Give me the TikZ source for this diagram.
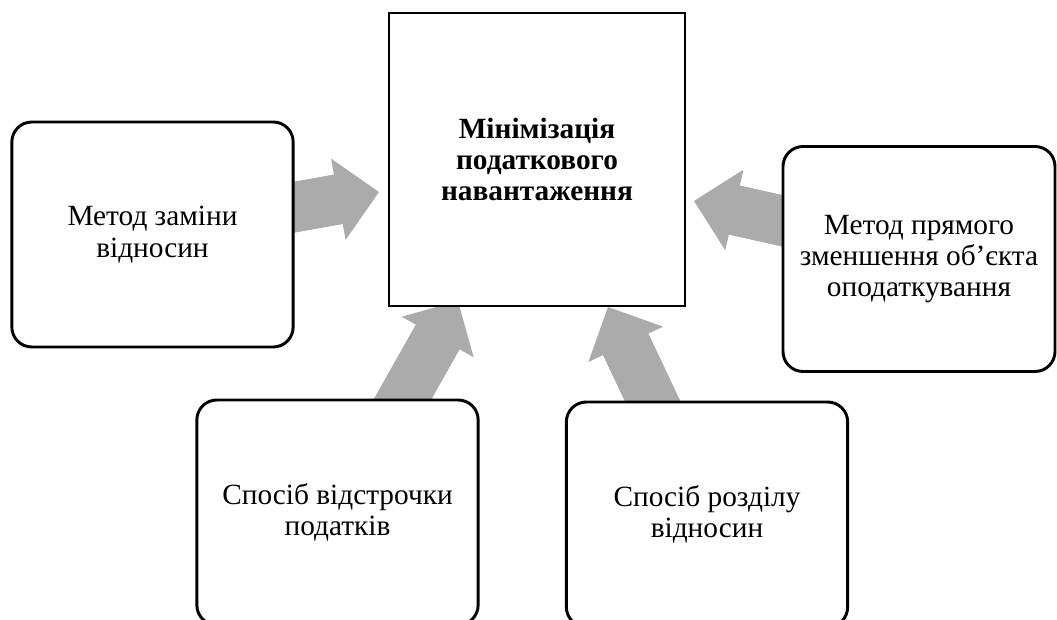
\documentclass[tikz,border=0pt]{standalone}
\usepackage{fontspec}
\setmainfont{Liberation Serif}
\usepackage{xcolor}
\usepackage{tikz}
\usetikzlibrary{arrows.meta}
\usetikzlibrary{backgrounds}
\definecolor{arrowgray}{HTML}{ABABAB}

\begin{document}
\begin{tikzpicture}[x=0.75pt,y=-0.75pt,
    box/.style={draw,line width=2.2pt,fill=white,align=center,inner sep=0pt,
      font=\fontsize{22}{23.5}\selectfont},
    method/.style={box,rounded corners=15pt,minimum width=211pt,minimum height=168.75pt},
    fat/.style={draw=arrowgray,line width=37.5pt,
      -{Triangle[length=31pt,width=62pt,line width=0pt,fill=arrowgray]}},
    fatbody/.style={draw=arrowgray,line width=37.5pt,shorten >=27pt}]
    \useasboundingbox (0,0) rectangle (1057,620);
    \node[box,minimum width=222pt,minimum height=219.75pt] (M) at (537,159.5)
      {\bfseries Мінімізація\\ \bfseries податкового\\ \bfseries навантаження};
    \node[method] (A) at (152.5,234.5) {Метод заміни\\відносин};
    \node[method,minimum width=204pt] (B) at (919,259) {Метод прямого\\зменшення об’єкта\\оподаткування};
    \node[method] (C) at (337.5,512.5) {Спосіб відстрочки\\податків};
    \node[method] (D) at (707,514.5) {Спосіб розділу\\відносин};
    \coordinate (A0) at (270,211.5);
    \coordinate (A1) at (379,192);
    \coordinate (B0) at (810,227);
    \coordinate (B1) at (694,201);
    \coordinate (C0) at (392,418);
    \coordinate (C1) at (458,301);
    \coordinate (D0) at (662,421);
    \coordinate (D1) at (608,307);
    \begin{scope}[on background layer]
    \foreach \s/\t in {A0/A1,B0/B1,C0/C1,D0/D1} {
      \draw[fat] (\s) -- (\t);
      \draw[fatbody] (\s) -- (\t);
    }
    \end{scope}
\end{tikzpicture}
\end{document}
